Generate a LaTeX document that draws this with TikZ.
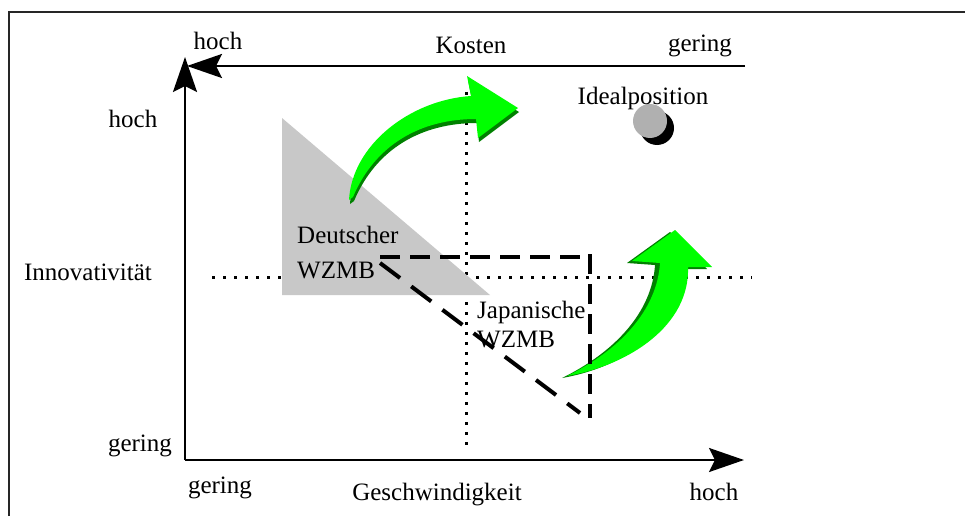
\documentclass[tikz,border=0pt]{standalone}
\usepackage{fontspec}
\setmainfont{Liberation Serif}
\usetikzlibrary{arrows.meta}
\definecolor{brightgreen}{RGB}{0,255,0}
\definecolor{darkgreen}{RGB}{0,128,0}
\definecolor{trigray}{RGB}{200,200,200}
\definecolor{ballgray}{RGB}{176,176,176}
\begin{document}
\begin{tikzpicture}[x=1pt,y=-1pt,
  lbl/.style={font=\fontsize{25}{29}\selectfont, inner sep=0pt, anchor=base},
  lblw/.style={lbl, anchor=base west},
  axis/.style={line width=2.5pt, -{Stealth[length=35pt,width=24pt,inset=6pt]}},
  frame/.style={line width=2.5pt, draw=black!85},
  dotline/.style={line width=3pt, dash pattern=on 3pt off 7pt},
  dashline/.style={line width=4pt, dash pattern=on 20pt off 10pt},
  arrowlight/.style={fill=brightgreen, draw=none},
  arrowdark/.style={fill=darkgreen, draw=none}]
\useasboundingbox (0,0) rectangle (965,516);

% frame (only top and left edges visible)
\coordinate (FL) at (9,516);
\coordinate (FC) at (9,12);
\coordinate (FR) at (965,12);
\draw[frame] (FL) -- (FC) -- (FR);

% dotted guide lines
\coordinate (VT) at (466,92);
\coordinate (VB) at (466,452);
\coordinate (HL) at (212,277);
\coordinate (HR) at (752,277);
\draw[dotline] (VT) -- (VB);
\draw[dotline, dash pattern=on 3pt off 8pt] (HL) -- (HR);

% grey triangle (Deutscher WZMB)
\fill[trigray] (282,118) -- (282,295) -- (490,295) -- cycle;

% axes
\coordinate (O) at (185,460);
\coordinate (YT) at (185,57);
\coordinate (XR) at (744,460);
\coordinate (KS) at (745,66);
\coordinate (KE) at (187,66);
\draw[axis] (O) -- (YT);
\draw[axis] (O) -- (XR);
\draw[axis] (KS) -- (KE);

% green arrow 1 (upper)
\begin{scope}[shift={(1,4)}]
\fill[arrowdark] (349,200) .. controls (352,145) and (410,100) .. (471,96)
  -- (467,76) -- (518,108) -- (478,138) -- (476,119)
  .. controls (420,119) and (375,145) .. (353,197) -- cycle;
\end{scope}
\fill[arrowlight] (349,200) .. controls (352,145) and (410,100) .. (471,96)
  -- (467,76) -- (518,108) -- (478,138) -- (476,119)
  .. controls (420,119) and (375,145) .. (353,197) -- cycle;

% green arrow 2 (right)
\begin{scope}[shift={(-5,2)}]
\fill[arrowdark] (567,376) .. controls (630,365) and (690,325) .. (688,267)
  -- (712,267) -- (675,230) -- (632,261) -- (660,263)
  .. controls (657,310) and (620,350) .. (567,376) -- cycle;
\end{scope}
\fill[arrowlight] (567,376) .. controls (630,365) and (690,325) .. (688,267)
  -- (712,267) -- (675,230) -- (632,261) -- (660,263)
  .. controls (657,310) and (620,350) .. (567,376) -- cycle;

% ideal position ball
\fill[black] (657,128) circle[radius=17];
\fill[ballgray] (650,121) circle[radius=17];

% dashed Japanese WZMB triangle
\coordinate (JA) at (380,257);
\coordinate (JB) at (590,257);
\coordinate (JC) at (590,418);
\coordinate (JD) at (380,263);
\coordinate (JE) at (580,413);
\draw[dashline] (JA) -- (JB);
\draw[dashline] ([yshift=3pt]JB) -- (JC);
\draw[dashline, dash pattern=on 25pt off 14pt] (JD) -- (JE);

% labels
\node[lbl] (hochT) at (218,50) {hoch};
\node[lbl] (kosten) at (471,54) {Kosten};
\node[lbl] (geringT) at (700,52) {gering};
\node[lbl] (ideal) at (643,104) {Idealposition};
\node[lbl] (hochL) at (133,128) {hoch};
\node[lbl] (innov) at (88,280) {Innovativität};
\node[lbl] (geringL) at (140,451) {gering};
\node[lbl] (geringB) at (220,493) {gering};
\node[lbl] (gesch) at (437,500) {Geschwindigkeit};
\node[lbl] (hochB) at (714,500) {hoch};
\node[lblw] (deu1) at (297,243) {Deutscher};
\node[lblw] (deu2) at (297,278) {WZMB};
\node[lblw] (jap1) at (477,318) {Japanische};
\node[lblw] (jap2) at (477,347) {WZMB};
\end{tikzpicture}
\end{document}
